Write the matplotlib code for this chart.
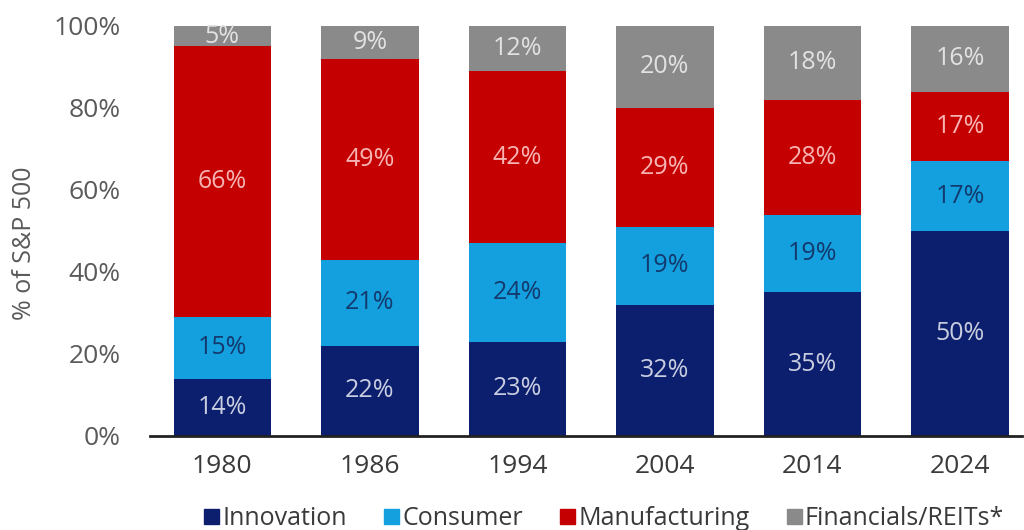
import numpy as np
import matplotlib
matplotlib.use("Agg")
import matplotlib.pyplot as plt
import matplotlib.patches as mpatches

plt.rcParams["font.family"] = ["Open Sans", "DejaVu Sans"]

years = ["1980", "1986", "1994", "2004", "2014", "2024"]
innovation = [14, 22, 23, 32, 35, 50]
consumer = [15, 21, 24, 19, 19, 17]
manufacturing = [66, 49, 42, 29, 28, 17]
financials = [5, 9, 12, 20, 18, 16]

series = [
    ("Innovation", innovation, "#0c1f6e", "#c9cde0"),
    ("Consumer", consumer, "#14a0de", "#123a6e"),
    ("Manufacturing", manufacturing, "#c40000", "#f7b4b4"),
    ("Financials/REITs*", financials, "#8a8a8a", "#e2e2e2"),
]

fig = plt.figure(figsize=(10.24, 5.3), dpi=100)
ax = fig.add_axes([0.1465, 0.1774, 0.8515, 0.7736])

x = np.arange(len(years))
bottom = np.zeros(len(years))
handles = []
for name, vals, color, txt_color in series:
    vals = np.array(vals, dtype=float)
    ax.bar(x, vals, bottom=bottom, width=0.66, color=color, zorder=2)
    for xi, b, v in zip(x, bottom, vals):
        # centre the label on the visible part of the segment
        top = min(b + v, 100)
        ax.text(xi, (b + top) / 2, f"{int(v)}%", ha="center", va="center",
                fontsize=18, color=txt_color, zorder=3)
    bottom += vals
    handles.append(mpatches.Patch(color=color, label=name))

ax.set_xlim(-0.49, 5.42)
ax.set_ylim(0, 100)
ax.set_yticks(range(0, 101, 20))
ax.set_yticklabels([f"{t}%" for t in range(0, 101, 20)])
ax.set_xticks(x)
ax.set_xticklabels(years)
ax.tick_params(axis="both", length=0, labelsize=19)
ax.tick_params(axis="y", pad=21, labelcolor="#5a5a5a")
ax.tick_params(axis="x", pad=13, labelcolor="#3a3a3a")
for side in ("top", "right", "left"):
    ax.spines[side].set_visible(False)
ax.spines["bottom"].set_linewidth(2)
ax.spines["bottom"].set_color("#222222")
ax.spines["bottom"].set_zorder(4)
ax.set_ylabel("% of S&P 500", fontsize=18, color="#5a5a5a", labelpad=8)
ax.yaxis.set_label_coords(-0.13, 0.47)

fig.legend(handles=handles, loc="lower center", ncol=4, frameon=False,
           fontsize=18, handlelength=0.6, handleheight=0.6, handletextpad=0.12,
           columnspacing=1.5, bbox_to_anchor=(0.59, -0.045),
           labelcolor="#3a3a3a")

fig.savefig("out.png", dpi=100)
